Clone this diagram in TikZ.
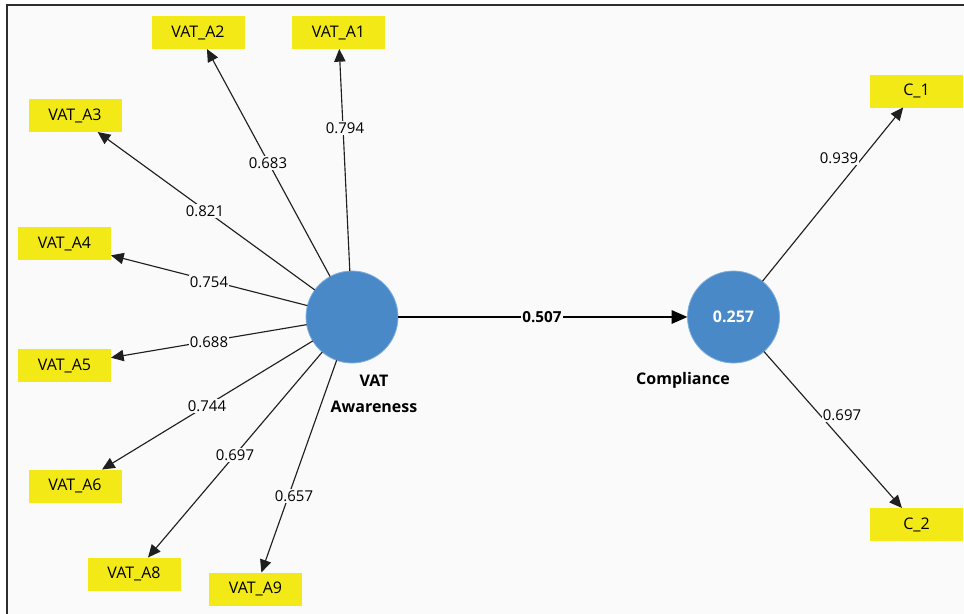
\documentclass[tikz,border=0pt]{standalone}
\usepackage{fontspec}
\setmainfont{Open Sans}
\usetikzlibrary{arrows.meta}

\definecolor{canvas}{RGB}{250,250,250}
\definecolor{indyellow}{RGB}{242,233,22}
\definecolor{lvblue}{RGB}{74,137,199}
\definecolor{lvedge}{RGB}{125,175,225}
\definecolor{framegray}{RGB}{45,45,45}

\begin{document}
\begin{tikzpicture}[x=0.75pt,y=-0.75pt,
  indicator/.style={rectangle, fill=indyellow, minimum width=69.75pt,
    minimum height=24.75pt, inner sep=0pt, outer sep=0pt,
    font=\fontsize{12}{14}\selectfont},
  latent/.style={circle, fill=lvblue, draw=lvedge, line width=0.6pt,
    minimum size=69pt, inner sep=0pt, outer sep=0pt, text=white,
    font=\fontsize{12}{14}\selectfont\bfseries},
  loading/.style={-{Triangle[length=9.5pt,width=8.5pt]}, line width=0.85pt, draw=black!88},
  structural/.style={-{Triangle[length=12pt,width=10pt]}, line width=1.8pt},
  coef/.style={fill=canvas, inner sep=0.8pt, font=\fontsize{11.2}{13}\selectfont},
  coefbold/.style={coef, font=\fontsize{11.4}{13}\selectfont\bfseries},
  lvname/.style={font=\fontsize{12}{19}\selectfont\bfseries, align=center}
]
% canvas and frame
\fill[white] (0,0) rectangle (964,614);
\fill[canvas] (7,5) rectangle (964,614);
\useasboundingbox (0,0) rectangle (964,614);
\draw[framegray, line width=1.1pt] (7,614) -- (7,5) -- (964,5);

% latent variables
\node[latent] (vat) at (352,317) {};
\node[latent] (comp) at (733.5,317) {0.257};
\node[lvname] (vatname) at (374,394) {VAT\\Awareness};
\node[lvname] (compname) at (683,380) {Compliance};

% indicators
\node[indicator] (a1) at (338.5,32.5) {VAT\_A1};
\node[indicator] (a2) at (198,32.5) {VAT\_A2};
\node[indicator] (a3) at (75,115.5) {VAT\_A3};
\node[indicator] (a4) at (64.5,243.5) {VAT\_A4};
\node[indicator] (a5) at (64.5,365.5) {VAT\_A5};
\node[indicator] (a6) at (75,486) {VAT\_A6};
\node[indicator] (a8) at (134,574) {VAT\_A8};
\node[indicator] (a9) at (255.5,589) {VAT\_A9};
\node[indicator] (c1) at (916.5,91) {C\_1};
\node[indicator] (c2) at (916.5,524.5) {C\_2};

% outer loadings
\draw[loading] (vat) -- (a1);
\draw[loading] (vat) -- (a2);
\draw[loading] (vat) -- (a3);
\draw[loading] (vat) -- (a4);
\draw[loading] (vat) -- (a5);
\draw[loading] (vat) -- (a6);
\draw[loading] (vat) -- (a8);
\draw[loading] (vat) -- (a9);
\draw[loading] (comp) -- (c1);
\draw[loading] (comp) -- (c2);

% path coefficient
\draw[structural] (vat) -- (comp);

% coefficient labels
\node[coef] (w1) at (345,128) {0.794};
\node[coef] (w2) at (268,163) {0.683};
\node[coef] (w3) at (205,211) {0.821};
\node[coef] (w4) at (209,282) {0.754};
\node[coef] (w5) at (209,342) {0.688};
\node[coef] (w6) at (207,406) {0.744};
\node[coef] (w8) at (235,455) {0.697};
\node[coef] (w9) at (294,496) {0.657};
\node[coef] (wc1) at (839,158) {0.939};
\node[coef] (wc2) at (842,415) {0.697};
\node[coefbold] (beta) at (542,317) {0.507};
\end{tikzpicture}
\end{document}
